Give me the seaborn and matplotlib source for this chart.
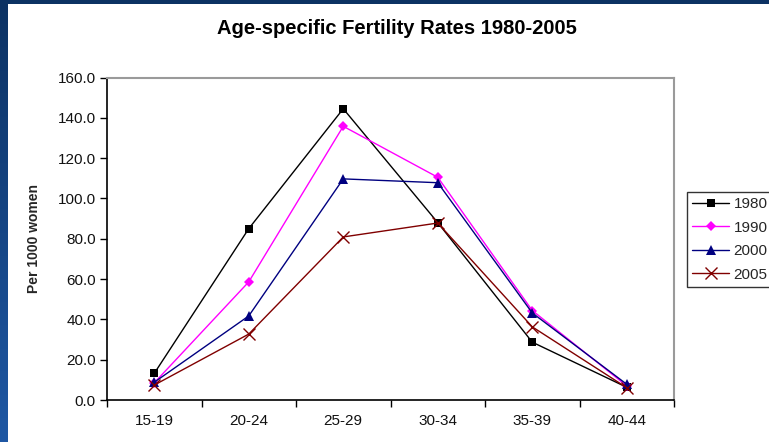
import numpy as np
import pandas as pd
import matplotlib
matplotlib.use("Agg")
import matplotlib.pyplot as plt
from matplotlib.patches import Rectangle
from matplotlib.colors import LinearSegmentedColormap
import seaborn as sns

age_groups = ["15-19", "20-24", "25-29", "30-34", "35-39", "40-44"]
rates_1980 = [13.2, 85.0, 144.5, 88.0, 28.7, 6.3]
rates_1990 = [8.5, 58.6, 135.8, 110.5, 44.4, 7.0]
rates_2000 = [8.8, 41.7, 109.7, 107.8, 43.2, 7.8]
rates_2005 = [7.4, 32.7, 80.9, 87.8, 36.3, 6.1]
years = ["1980", "1990", "2000", "2005"]
y_ticks = [0, 20, 40, 60, 80, 100, 120, 140, 160]

df = pd.DataFrame({
    "age": age_groups * 4,
    "rate": rates_1980 + rates_1990 + rates_2000 + rates_2005,
    "year": [y for y in years for _ in age_groups],
})
df["pos"] = df["age"].map({a: i for i, a in enumerate(age_groups)})

sns.set_theme(style="white")
plt.rcParams["font.family"] = ["Liberation Sans", "DejaVu Sans"]

W, H = 769, 442
fig = plt.figure(figsize=(W / 100, H / 100), dpi=100)

# background: blue gradient frame with white slide area
bg = fig.add_axes([0, 0, 1, 1], zorder=0)
cmap = LinearSegmentedColormap.from_list("bgblue", ["#0c3263", "#1f58a4"])
grad = np.linspace(0, 1, 256).reshape(-1, 1)
bg.imshow(grad, aspect="auto", cmap=cmap, extent=[0, 1, 0, 1], origin="upper")
bg.add_patch(Rectangle((8 / W, 0), 1 - 8 / W, 1 - 4 / H, facecolor="white",
                       edgecolor="none", transform=bg.transAxes))
bg.set_xlim(0, 1)
bg.set_ylim(0, 1)
bg.axis("off")

left, right = 107 / W, 674 / W
bottom, top = 1 - 400 / H, 1 - 77.5 / H
ax = fig.add_axes([left, bottom, right - left, top - bottom], zorder=1)
ax.set_facecolor("white")

styles = {
    "1980": dict(color="#000000", marker="s", markersize=5.5, mew=0),
    "1990": dict(color="#ff00ff", marker="D", markersize=5, mew=0),
    "2000": dict(color="#000080", marker="^", markersize=6.5, mew=0),
    "2005": dict(color="#800000", marker="x", markersize=9, mew=1.0),
}
for yr in years:
    st = styles[yr]
    sns.lineplot(data=df[df["year"] == yr], x="pos", y="rate", ax=ax,
                 color=st["color"], marker=st["marker"], markersize=st["markersize"],
                 markeredgewidth=st["mew"], markeredgecolor=st["color"],
                 markerfacecolor=st["color"], linewidth=1.0, label=yr,
                 errorbar=None, sort=False)

ax.set_xlim(-0.5, len(age_groups) - 0.5)
ax.set_ylim(0, 160)
ax.set_yticks(y_ticks)
ax.set_yticklabels([f"{v:.1f}" for v in y_ticks])
ax.set_xticks(np.arange(-0.5, len(age_groups)), labels=[""] * (len(age_groups) + 1))
ax.set_xticks(np.arange(len(age_groups)), labels=age_groups, minor=True)
ax.tick_params(axis="x", which="major", direction="out", length=5, width=1, color="black")
ax.tick_params(axis="x", which="minor", length=0, labelsize=11, pad=10, labelcolor="#111111")
ax.tick_params(axis="y", direction="out", length=5, width=1, color="black",
               labelsize=11, pad=3, labelcolor="#111111")
ax.tick_params(left=True, bottom=True)
ax.grid(False)

for s in ["top", "right"]:
    ax.spines[s].set_color("#9a9a9a")
    ax.spines[s].set_linewidth(1.5)
for s in ["left", "bottom"]:
    ax.spines[s].set_color("black")
    ax.spines[s].set_linewidth(1.2)

ax.set_xlabel("")
ax.set_ylabel("Per 1000 women", fontsize=10, fontweight="bold", labelpad=12)

fig.text(397 / W, 1 - 29 / H, "Age-specific Fertility Rates 1980-2005",
         ha="center", va="center", fontsize=14.5, fontweight="bold", color="black")

leg = ax.legend(loc="upper left", bbox_to_anchor=(687 / W, 1 - 192 / H),
                bbox_transform=fig.transFigure, borderaxespad=0, fontsize=11,
                frameon=True, fancybox=False, handlelength=2.4, handletextpad=0.3,
                labelspacing=0.62, borderpad=0.35)
leg.get_frame().set_edgecolor("black")
leg.get_frame().set_linewidth(1.0)
leg.get_frame().set_facecolor("white")

fig.savefig("out.png", dpi=100)
